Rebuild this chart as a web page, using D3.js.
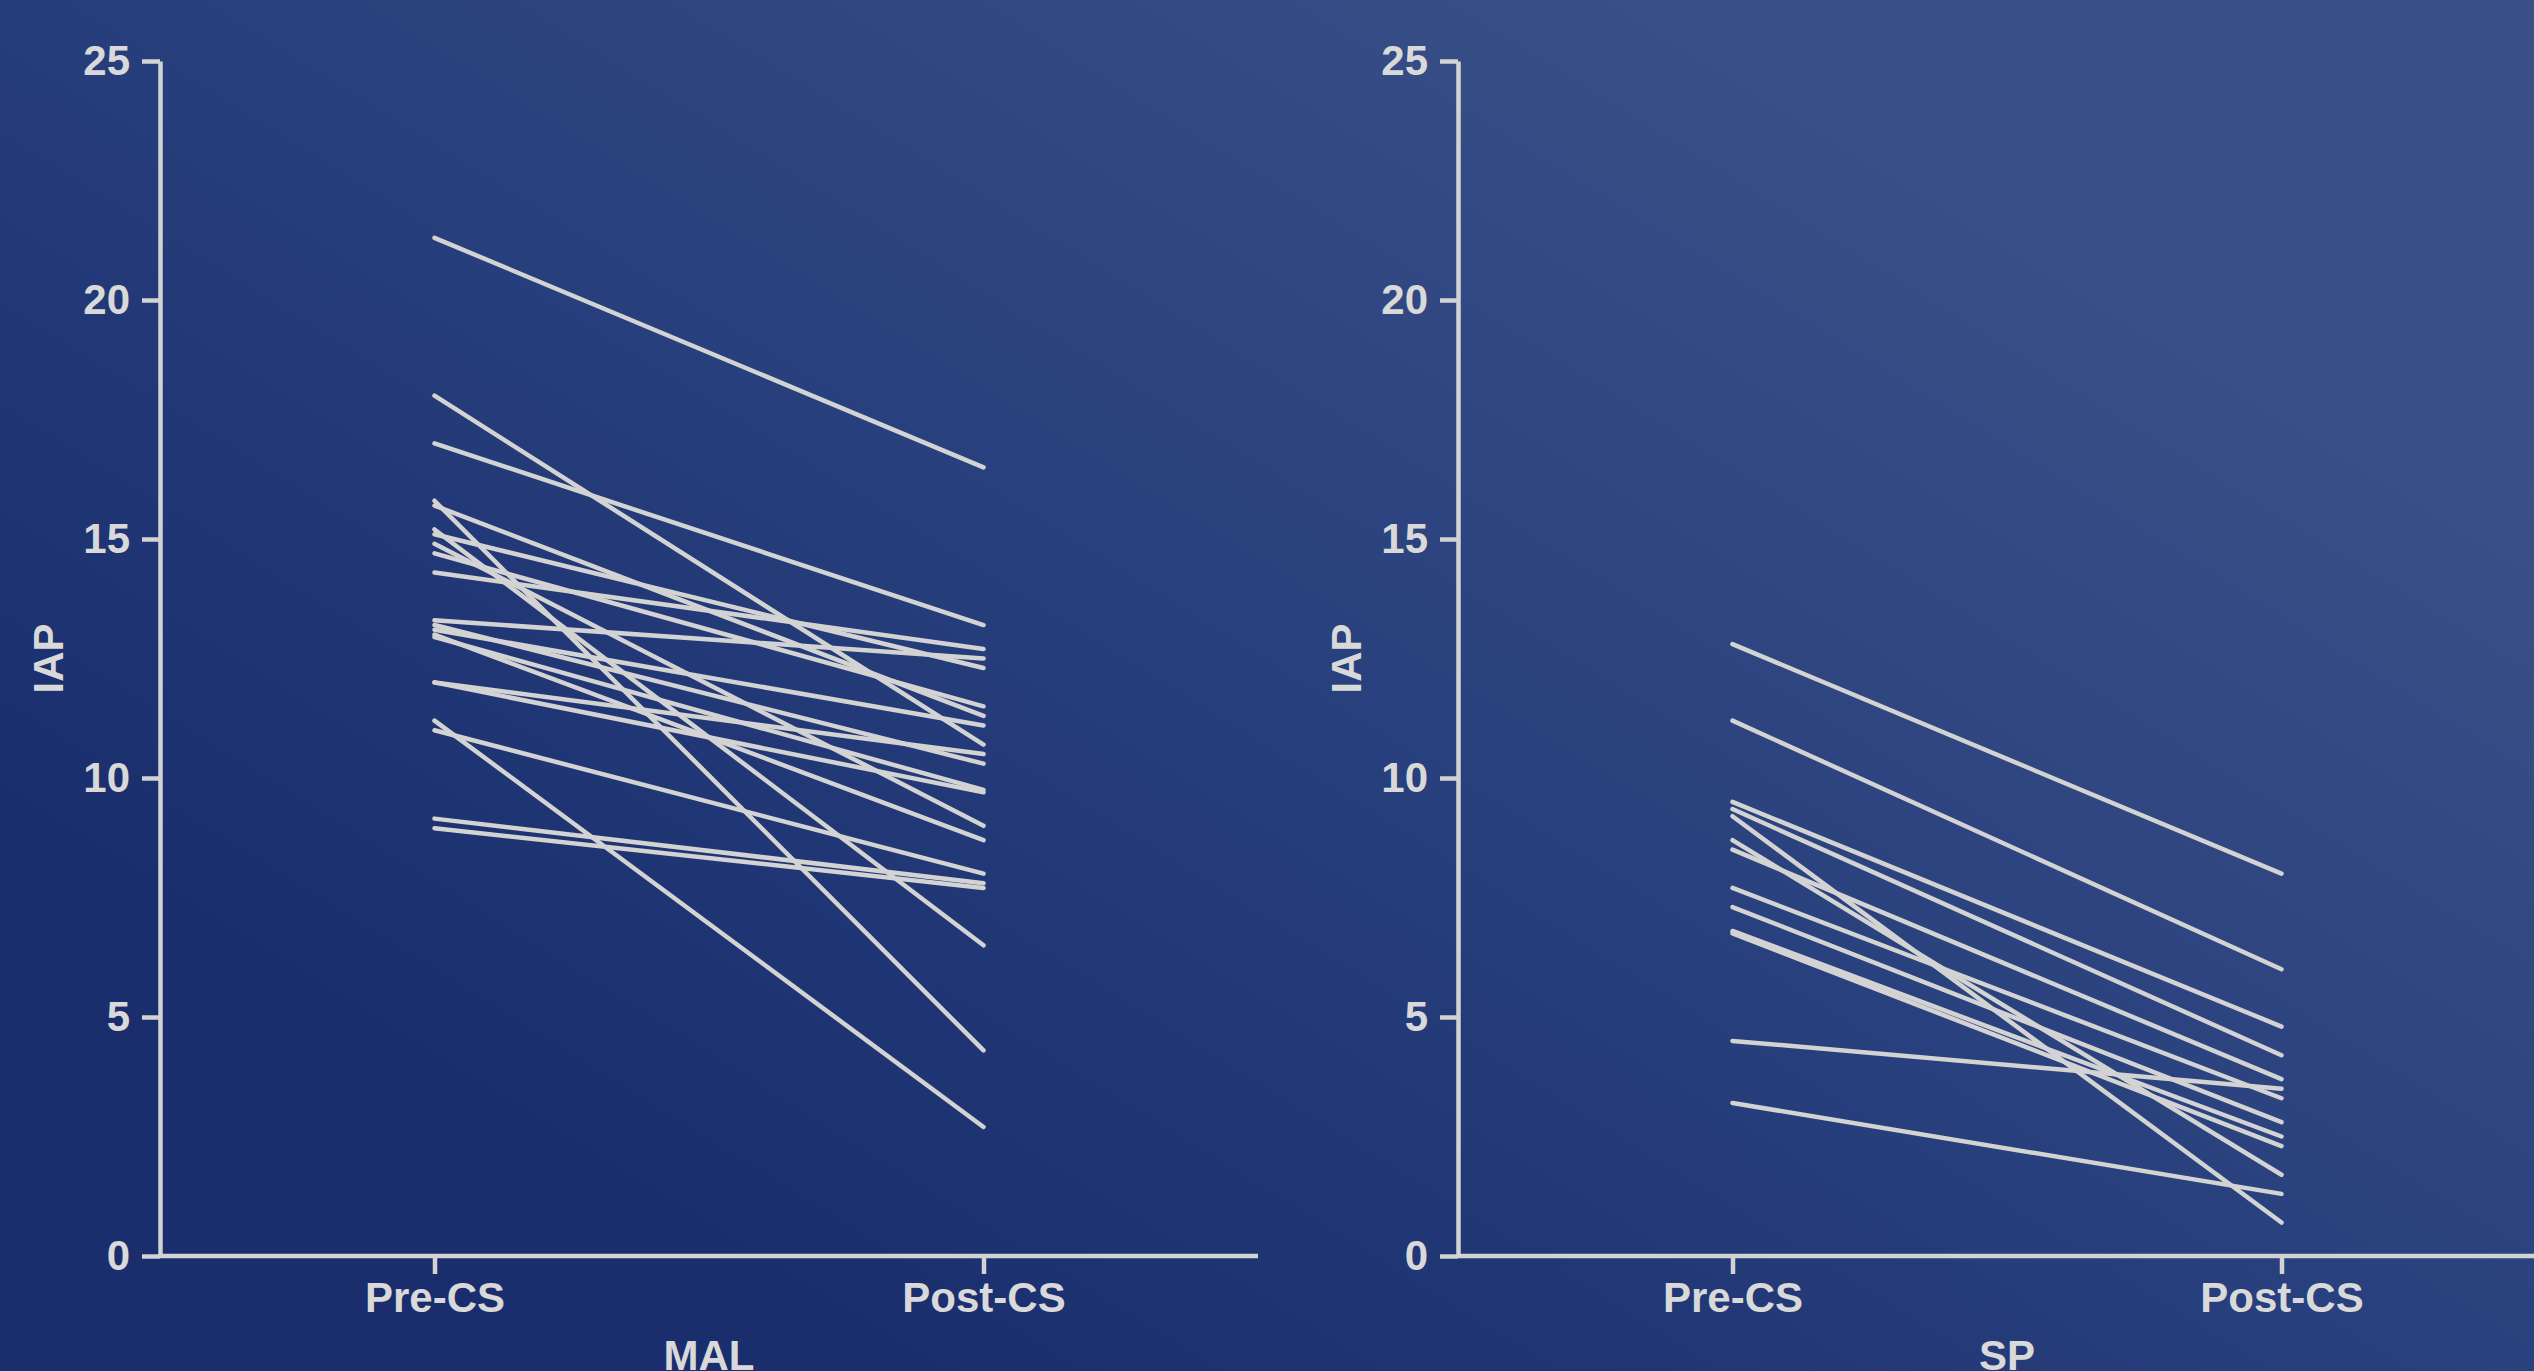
<!DOCTYPE html>
<html>
<head>
<meta charset="utf-8">
<script src="https://cdn.jsdelivr.net/npm/d3@7"></script>
<style>
  html, body { margin: 0; padding: 0; overflow: hidden; background: #233879; }
  #graf { width: 2534px; height: 1371px; }
  text { font-family: 'Liberation Sans', Arial, sans-serif; font-weight: bold; }
</style>
</head>
<body>
<div id="graf"></div>
<script>
// -- Datos (IAP antes y después)
categorias = ['Pre-CS', 'Post-CS']
yTicks = [0, 5, 10, 15, 20, 25]

malPre  = [21.3, 18.0, 17.0, 15.8, 15.7, 15.2, 15.1, 14.9, 14.7, 14.3, 13.3, 13.2, 13.1, 13.0, 12.95, 12.0, 12.0, 11.2, 11.0, 9.15, 8.95]
malPost = [16.5, 10.7, 13.2,  4.3, 11.3,  6.5, 12.3,  9.0, 11.5, 12.7, 12.5, 10.3, 11.1,  8.7,  9.75, 10.5,  9.7,  2.7,  8.0,  7.8,  7.7]

spPre  = [12.8, 11.2, 9.5, 9.35, 9.2, 8.7, 8.5, 7.7, 7.3, 6.8, 6.75, 4.5, 3.2]
spPost = [ 8.0,  6.0, 4.8, 4.2,  0.7, 1.7, 3.7, 3.3, 2.8, 2.5, 2.3,  3.5, 1.3]

// -- Configuración del canvas
ancho_total = 2534
alto_total = 1371
margins = {top: 61, bottom: 115}
ancho = 1098
alto = alto_total - margins.top - margins.bottom

colorLinea = '#d3d3d3'
colorTexto = '#d9d9d9'
fntSize = '42px'

svg = d3.select('#graf').append('svg')
        .attr('width', ancho_total)
        .attr('height', alto_total)

// -- Fondo degradado
grad = svg.append('defs').append('linearGradient')
          .attr('id', 'fondo')
          .attr('gradientUnits', 'userSpaceOnUse')
          .attr('x1', 1750).attr('y1', 0)
          .attr('x2', 900).attr('y2', alto_total)
grad.append('stop').attr('offset', '0%').attr('stop-color', '#3b5088')
grad.append('stop').attr('offset', '50%').attr('stop-color', '#28407d')
grad.append('stop').attr('offset', '100%').attr('stop-color', '#1a2e6d')

svg.append('rect')
   .attr('width', ancho_total)
   .attr('height', alto_total)
   .attr('fill', 'url(#fondo)')

// -- Escaladores
x = d3.scalePoint().domain(categorias).range([0, ancho]).padding(0.5)
y = d3.scaleLinear().domain([0, 25]).range([alto, 0])

function panel (x0, pre, post, titulo) {
    g = svg.append('g')
           .attr('transform', `translate(${x0}, ${margins.top})`)

    yAxis = d3.axisLeft(y)
              .tickValues(yTicks)
              .tickSize(18)
              .tickSizeOuter(0)
              .tickPadding(12)
    xAxis = d3.axisBottom(x)
              .tickSize(18)
              .tickSizeOuter(0)
              .tickPadding(8)

    ejeY = g.append('g').call(yAxis)
    ejeX = g.append('g')
            .attr('transform', `translate(0,${alto})`)
            .call(xAxis)

    // el eje x arranca en el eje y
    ejeX.select('.domain').attr('d', `M0,0H${ancho}`)

    ;[ejeY, ejeX].forEach(e => {
        e.selectAll('path, line')
         .attr('stroke', colorLinea)
         .attr('stroke-width', 4.5)
        e.selectAll('text')
         .attr('fill', colorTexto)
         .attr('font-size', fntSize)
         .attr('font-family', "'Liberation Sans', Arial, sans-serif")
         .attr('font-weight', 'bold')
    })

    // -- Líneas por sujeto
    g.selectAll('line.par')
     .data(d3.zip(pre, post))
     .enter()
     .append('line')
        .attr('class', 'par')
        .attr('x1', x(categorias[0]))
        .attr('y1', d => y(d[0]))
        .attr('x2', x(categorias[1]))
        .attr('y2', d => y(d[1]))
        .attr('stroke', colorLinea)
        .attr('stroke-width', 4.5)
        .attr('stroke-linecap', 'round')

    // -- Letreros
    g.append('text')
     .attr('transform', `translate(-97, ${alto/2}) rotate(-90)`)
     .attr('text-anchor', 'middle')
     .attr('font-size', fntSize)
     .attr('fill', colorTexto)
     .text('IAP')

    g.append('text')
     .attr('x', ancho/2)
     .attr('y', alto + 114)
     .attr('text-anchor', 'middle')
     .attr('font-size', fntSize)
     .attr('fill', colorTexto)
     .text(titulo)
}

panel(160, malPre, malPost, 'MAL')
panel(1458, spPre, spPost, 'SP')
</script>
</body>
</html>
